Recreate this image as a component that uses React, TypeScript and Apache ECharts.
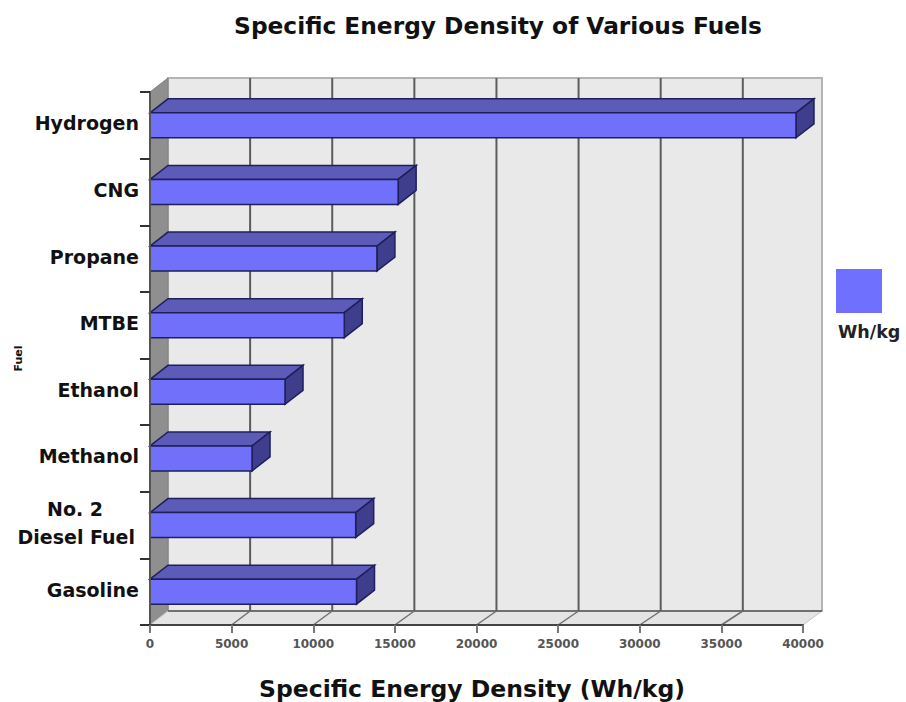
import React, { useEffect, useRef } from "react";
import * as echarts from "echarts";

const fuels = ["Gasoline", "No. 2\nDiesel Fuel", "Methanol", "Ethanol", "MTBE", "Propane", "CNG", "Hydrogen"];
const energyDensity = [12650, 12600, 6250, 8270, 11900, 13900, 15200, 39570];
const energyTicks = [5000, 10000, 15000, 20000, 25000, 30000, 35000];

const FONT = "'DejaVu Sans', sans-serif";
// Oblique offset of the chart's 3D depth, in pixels.
const DEPTH_X = 18;
const DEPTH_Y = 14;
// The back wall is drawn very slightly wider than the front plane.
const BACK_SCALE = 1.006;

export default function App() {
  const ref = useRef<HTMLDivElement>(null);

  useEffect(() => {
    const chart = echarts.init(ref.current!, null, { renderer: "svg" });
    chart.setOption({
      animation: false,
      backgroundColor: "#ffffff",
      title: {
        text: "Specific Energy Density of Various Fuels",
        left: 493,
        top: 9,
        textAlign: "center",
        textStyle: { fontFamily: FONT, fontWeight: "bold", fontSize: 23.3, color: "#111111" },
      },
      grid: { left: 150, right: 103, top: 92, bottom: 77, outerBoundsMode: "none" },
      xAxis: {
        type: "value",
        min: 0,
        max: 40000,
        interval: 5000,
        z: 10,
        splitLine: { show: false },
        axisLine: { show: true, lineStyle: { color: "#444444", width: 2 } },
        axisTick: { show: true, length: 8, lineStyle: { color: "#777777", width: 2 } },
        axisLabel: {
          fontFamily: FONT,
          fontSize: 12,
          fontWeight: "bold",
          color: "#555555",
          margin: 13,
          formatter: (v: number) => String(v),
        },
        name: "Specific Energy Density (Wh/kg)",
        nameLocation: "middle",
        nameGap: 52,
        nameTextStyle: { fontFamily: FONT, fontWeight: "bold", fontSize: 23.5, color: "#111111", padding: [0, 9, 0, 0] },
      },
      yAxis: {
        type: "category",
        data: fuels,
        z: 10,
        splitLine: { show: false },
        axisLine: { show: true, lineStyle: { color: "#555555", width: 2 } },
        axisTick: { show: true, length: 10, lineStyle: { color: "#333333", width: 2 } },
        axisLabel: {
          fontFamily: FONT,
          fontSize: 19,
          fontWeight: "bold",
          color: "#111111",
          margin: 11,
          lineHeight: 28,
          padding: [0, 0, 4, 0],
          formatter: (v: string) => {
            const lines = v.split("\n");
            return lines.length > 1 ? `{a|${lines[0]}}\n{b|${lines[1]}}` : v;
          },
          rich: {
            a: { fontFamily: FONT, fontSize: 19, fontWeight: "bold", color: "#111111", padding: [0, 36, 0, 0], lineHeight: 28 },
            b: { fontFamily: FONT, fontSize: 19, fontWeight: "bold", color: "#111111", padding: [0, 4, 0, 0], lineHeight: 28 },
          },
        },
        name: "Fuel",
        nameLocation: "middle",
        nameGap: 126,
        nameMoveOverlap: false,
        nameRotate: 90,
        nameTextStyle: { fontFamily: FONT, fontWeight: "bold", fontSize: 11, color: "#111111" },
      },
      graphic: [
        { type: "rect", shape: { x: 836, y: 269, width: 46, height: 44 }, style: { fill: "#7070ff" } },
        {
          type: "text",
          x: 838,
          y: 323,
          style: { text: "Wh/kg", font: `bold 17.5px ${FONT}`, fill: "#222222" },
        },
      ],
      series: [
        {
          // Back wall, side wall and floor of the 3D plot box
          type: "custom",
          z: 1,
          silent: true,
          data: [0],
          encode: { x: 0 },
          renderItem: (params: any) => {
            const { x, y, width: w, height: h } = params.coordSys;
            const bx = x + DEPTH_X;
            const by = y - DEPTH_Y;
            return {
              type: "group",
              children: [
                {
                  type: "polygon",
                  shape: { points: [[bx, by], [bx + w + 1, by], [bx + w + 1, by + h], [bx, by + h]] },
                  style: { fill: "#e9e9e9", stroke: "#b4b4b4", lineWidth: 2 },
                },
                {
                  type: "polygon",
                  shape: { points: [[x, y], [bx, by], [bx, by + h], [x, y + h]] },
                  style: { fill: "#8f8f8f", stroke: "#808080", lineWidth: 1 },
                },
                {
                  type: "polygon",
                  shape: { points: [[x, y + h], [bx, by + h], [bx + w + 1, by + h], [x + w, y + h]] },
                  style: { fill: "#e4e4e4", stroke: "#c4c4c4", lineWidth: 1 },
                },
                {
                  type: "line",
                  shape: { x1: bx, y1: by + h, x2: bx + w + 1, y2: by + h },
                  style: { stroke: "#707070", lineWidth: 2 },
                },
              ],
            };
          },
        },
        {
          // Grid lines running up the back wall and across the floor
          type: "custom",
          z: 2,
          silent: true,
          data: energyTicks,
          encode: { x: 0 },
          renderItem: (params: any, api: any) => {
            const { x, y, height: h } = params.coordSys;
            const px = api.coord([api.value(0), 0])[0];
            const backX = x + DEPTH_X + (px - x) * BACK_SCALE;
            return {
              type: "group",
              children: [
                {
                  type: "line",
                  shape: { x1: backX, y1: y - DEPTH_Y, x2: backX, y2: y + h - DEPTH_Y },
                  style: { stroke: "#5c5c5c", lineWidth: 2 },
                },
                {
                  type: "line",
                  shape: { x1: px, y1: y + h, x2: backX, y2: y + h - DEPTH_Y },
                  style: { stroke: "#707070", lineWidth: 1.5 },
                },
              ],
            };
          },
        },
        {
          // Extruded horizontal bars: front, top and end faces
          type: "custom",
          name: "Wh/kg",
          z: 3,
          data: energyDensity.map((v, i) => [v, i]),
          encode: { x: 0, y: 1 },
          renderItem: (_params: any, api: any) => {
            const end = api.coord([api.value(0), api.value(1)]);
            const start = api.coord([0, api.value(1)]);
            const half = 12.5;
            const top = end[1] - half;
            const bottom = end[1] + half;
            const edge = { stroke: "#1f1f5c", lineWidth: 1.5 };
            return {
              type: "group",
              children: [
                {
                  type: "polygon",
                  shape: { points: [[start[0], top], [start[0] + DEPTH_X, top - DEPTH_Y], [end[0] + DEPTH_X, top - DEPTH_Y], [end[0], top]] },
                  style: { fill: "#5c5cb8", ...edge },
                },
                {
                  type: "polygon",
                  shape: { points: [[end[0], top], [end[0] + DEPTH_X, top - DEPTH_Y], [end[0] + DEPTH_X, bottom - DEPTH_Y], [end[0], bottom]] },
                  style: { fill: "#3e3e8c", ...edge },
                },
                {
                  type: "rect",
                  shape: { x: start[0], y: top, width: end[0] - start[0], height: bottom - top },
                  style: { fill: "#7070fb", ...edge },
                },
              ],
            };
          },
        },
      ],
    });
    return () => chart.dispose();
  }, []);

  return <div ref={ref} style={{ position: "absolute", left: 0, top: 0, width: 906, height: 702 }} />;
}
